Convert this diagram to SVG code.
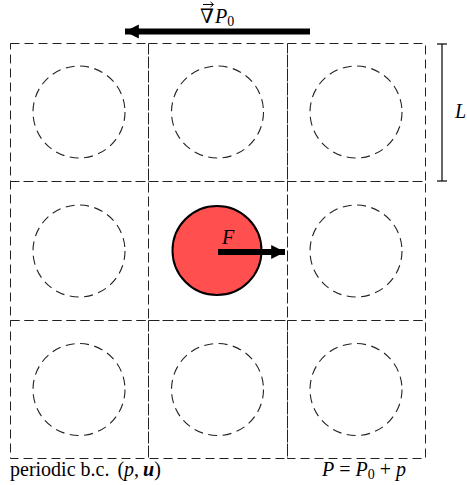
<svg xmlns="http://www.w3.org/2000/svg" width="467" height="485" viewBox="0 0 467 485">
<style>
.cell{fill:none;stroke:#222;stroke-width:1;stroke-dasharray:9,5}
.ghost{fill:none;stroke:#222;stroke-width:1.1;stroke-dasharray:9,5.5}
.t{font-family:'Liberation Serif','DejaVu Serif',serif;font-size:20px;fill:#000}
.i{font-style:italic}
</style>
<defs>
<marker id="ah" viewBox="0 0 10 10" refX="10" refY="5" markerWidth="2.3" markerHeight="2.4" orient="auto" markerUnits="strokeWidth">
<path d="M0,0 L10,5 L0,10 z" fill="#000"/>
</marker>
</defs>
<rect width="467" height="485" fill="#fff"/>
<g id="cells">
<rect class="cell" x="10.5" y="43.5" width="138" height="138"/>
<rect class="cell" x="148.5" y="43.5" width="139" height="138"/>
<rect class="cell" x="287.5" y="43.5" width="138" height="138"/>
<rect class="cell" x="10.5" y="181.5" width="138" height="139"/>
<rect class="cell" x="148.5" y="181.5" width="139" height="139"/>
<rect class="cell" x="287.5" y="181.5" width="138" height="139"/>
<rect class="cell" x="10.5" y="320.5" width="138" height="138"/>
<rect class="cell" x="148.5" y="320.5" width="139" height="138"/>
<rect class="cell" x="287.5" y="320.5" width="138" height="138"/>
</g>
<g id="images">
<circle class="ghost" cx="79" cy="112" r="46"/>
<circle class="ghost" cx="217.5" cy="112" r="46"/>
<circle class="ghost" cx="356" cy="112" r="46"/>
<circle class="ghost" cx="79" cy="251" r="46"/>
<circle class="ghost" cx="356" cy="251" r="46"/>
<circle class="ghost" cx="79" cy="389.5" r="46"/>
<circle class="ghost" cx="217.5" cy="389.5" r="46"/>
<circle class="ghost" cx="356" cy="389.5" r="46"/>
</g>
<g id="particle">
<circle cx="217" cy="250.5" r="44.5" fill="#ff4f4f" stroke="#000" stroke-width="2"/>
</g>
<g id="connectors">
<line x1="218" y1="252" x2="285" y2="252" stroke="#000" stroke-width="6" marker-end="url(#ah)"/>
<line x1="310" y1="31.5" x2="125" y2="31.5" stroke="#000" stroke-width="6" marker-end="url(#ah)"/>
<g stroke="#000" stroke-width="1.2">
<line x1="442" y1="44" x2="442" y2="181"/>
<line x1="437" y1="44" x2="447" y2="44"/>
<line x1="437" y1="181" x2="447" y2="181"/>
</g>
<g stroke="#000" stroke-width="1" fill="none">
<line x1="203" y1="4.5" x2="213" y2="4.5"/>
<path d="M210.5,2 L213.5,4.5 L210.5,7"/>
</g>
</g>
<g id="labels">
<text class="t i" font-family="Liberation Serif, DejaVu Serif, serif" x="222" y="244">F</text>
<text class="t" font-family="Liberation Serif, DejaVu Serif, serif" x="200" y="23">∇<tspan class="i" dx="1">P</tspan><tspan font-size="14" dy="3">0</tspan></text>
<text class="t i" font-family="Liberation Serif, DejaVu Serif, serif" x="455" y="118">L</text>
<text class="t" font-family="Liberation Serif, DejaVu Serif, serif" x="10" y="476">periodic b.c.<tspan dx="8">(</tspan><tspan class="i">p</tspan>,<tspan dx="4" font-weight="bold" font-style="italic">u</tspan>)</text>
<text class="t" font-family="Liberation Serif, DejaVu Serif, serif" x="322" y="476"><tspan class="i">P</tspan> = <tspan class="i">P</tspan><tspan font-size="14" dy="3">0</tspan><tspan dy="-3"> + </tspan><tspan class="i">p</tspan></text>
</g>
</svg>
